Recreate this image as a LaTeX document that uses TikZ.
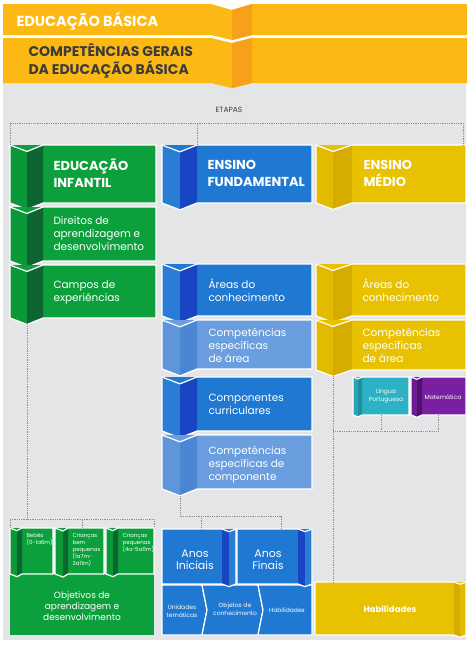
\documentclass[tikz,border=0pt]{standalone}
\usepackage{fontspec}
\setmainfont{Poppins}
\usetikzlibrary{calc}

\definecolor{bandface}{HTML}{FDB913}
\definecolor{bandstrip}{HTML}{F7A11A}
\definecolor{panelgray}{HTML}{E4E5E7}
\definecolor{inktext}{HTML}{3B3B3B}
\definecolor{guidegray}{HTML}{8C8C8C}
\definecolor{eiface}{HTML}{0BA03C}
\definecolor{eiflap}{HTML}{0A9838}
\definecolor{eistrip}{HTML}{0D6632}
\definecolor{efface}{HTML}{1F78D1}
\definecolor{efflap}{HTML}{2A7DD4}
\definecolor{efstrip}{HTML}{1845C2}
\definecolor{lbface}{HTML}{6A9EDE}
\definecolor{lbflap}{HTML}{5E95DB}
\definecolor{lbstrip}{HTML}{4A86D4}
\definecolor{emface}{HTML}{E8C200}
\definecolor{emflap}{HTML}{E2BA00}
\definecolor{emstrip}{HTML}{D6AC00}
\definecolor{lpface}{HTML}{2CB2C4}
\definecolor{lpflap}{HTML}{27A6B6}
\definecolor{lpstrip}{HTML}{1E8F9D}
\definecolor{mtface}{HTML}{7B1FA2}
\definecolor{mtflap}{HTML}{6E1A93}
\definecolor{mtstrip}{HTML}{52106F}

% folded box, fold on the left: x0, y0, x1, y1, flap, fold, name, palette
\newcommand{\foldbox}[8]{%
  \fill[#8face] (#1,#2) -- (#3,#2) -- (#3,#4) -- (#1,#4) -- cycle;
  \fill[#8flap] (#1,#2) -- (#1+#5,#2+0.38*#5) -- (#1+#5,#4+0.38*#5) -- (#1,#4) -- cycle;
  \fill[#8strip] (#1+#5,#2+0.38*#5) -- (#1+#6,#2) -- (#1+#6,#4) -- (#1+#5,#4+0.38*#5) -- cycle;
  \draw[sep] (#1,#2) -- (#1+#5,#2+0.38*#5) -- (#1+#6,#2) -- (#3,#2) -- (#3,#4)
    -- (#1+#6,#4) -- (#1+#5,#4+0.38*#5) -- (#1,#4) -- cycle;
  \coordinate (#7-tl) at (#1,#2);
  \coordinate (#7-tr) at (#3,#2);
  \coordinate (#7-bl) at (#1,#4);
  \coordinate (#7-br) at (#3,#4);
  \coordinate (#7-fold) at (#1+#6,#2);
  \coordinate (#7-v) at (#1+#5,#4+0.38*#5);
}
% same, fold on the right
\newcommand{\foldboxr}[8]{%
  \fill[#8face] (#1,#2) -- (#3,#2) -- (#3,#4) -- (#1,#4) -- cycle;
  \fill[#8strip] (#3-#6,#2) -- (#3-#5,#2+0.38*#5) -- (#3-#5,#4+0.38*#5) -- (#3-#6,#4) -- cycle;
  \fill[#8flap] (#3-#5,#2+0.38*#5) -- (#3,#2) -- (#3,#4) -- (#3-#5,#4+0.38*#5) -- cycle;
  \draw[sep] (#1,#2) -- (#3-#6,#2) -- (#3-#5,#2+0.38*#5) -- (#3,#2) -- (#3,#4)
    -- (#3-#5,#4+0.38*#5) -- (#3-#6,#4) -- (#1,#4) -- cycle;
  \coordinate (#7-tl) at (#1,#2);
  \coordinate (#7-tr) at (#3,#2);
  \coordinate (#7-bl) at (#1,#4);
  \coordinate (#7-br) at (#3,#4);
}

\tikzset{
  sep/.style={draw=white, line width=1.2pt, line join=miter},
  headtext/.style={anchor=west, align=left, text=white, font=\bfseries\fontsize{13}{17}\selectfont},
  boxtext/.style={anchor=west, align=left, text=white, font=\fontsize{10.5}{13}\selectfont},
  tinytext/.style={anchor=north west, align=left, text=white, font=\fontsize{5.5}{7}\selectfont},
  smalltext/.style={align=center, text=white, font=\fontsize{6}{7.5}\selectfont},
  guide/.style={draw=guidegray, densely dotted, line width=0.8pt},
}

\begin{document}
\begin{tikzpicture}[x=1pt, y=-1pt]
  \useasboundingbox (0,0) rectangle (474,648);
  % Background panel
  \fill[panelgray] (3,60) rectangle (466,640);

  % Header bands
  \fill[bandface] (3,4) -- (211,4) -- (232,10) -- (252,4) -- (467,4) -- (467,35)
    -- (252,35) -- (232,40) -- (211,35) -- (3,35) -- cycle;
  \fill[bandstrip] (232,10) -- (252,4) -- (252,35) -- (232,40) -- cycle;
  \fill[bandface] (3,38) -- (211,38) -- (232,43) -- (252,38) -- (467,38) -- (467,83)
    -- (252,83) -- (232,88) -- (211,83) -- (3,83) -- cycle;
  \fill[bandstrip] (232,43) -- (252,38) -- (252,83) -- (232,88) -- cycle;
  \node[anchor=west, text=white, font=\bfseries\fontsize{14.5}{16}\selectfont] (eb) at (13,21) {EDUCAÇÃO BÁSICA};
  \node[anchor=west, align=left, text=inktext, font=\bfseries\fontsize{14}{18}\selectfont] (cg) at (25,61)
    {COMPETÊNCIAS GERAIS\\DA EDUCAÇÃO BÁSICA};

  % Etapas
  \node[text=inktext, font=\fontsize{7.5}{9}\selectfont] (etapas) at (229,110) {ETAPAS};

  % Column 1: Educacao Infantil
  \foldbox{10}{145}{156}{203}{17}{33}{ei}{ei}
  \node[headtext] (ei-txt) at (50,173) {EDUCAÇÃO\\INFANTIL};
  \foldbox{10}{207}{156}{261}{17}{33}{dir}{ei}
  \node[boxtext] (dir-txt) at (50,234) {Direitos de\\aprendizagem e\\desenvolvimento};
  \foldbox{10}{265}{156}{318}{17}{33}{campos}{ei}
  \node[boxtext] (campos-txt) at (50,292) {Campos de\\experiências};

  % Column 2: Ensino Fundamental
  \foldbox{162}{145}{312}{203}{18}{35}{ef}{ef}
  \node[headtext] (ef-txt) at (204,173) {ENSINO\\FUNDAMENTAL};
  \foldbox{162}{264}{312}{316}{18}{35}{ac}{ef}
  \node[boxtext] (ac-txt) at (205,290) {Áreas do\\conhecimento};
  \foldbox{162}{320}{312}{369}{18}{35}{cea}{lb}
  \node[boxtext] (cea-txt) at (205,346) {Competências\\específicas\\de área};
  \foldbox{162}{377}{312}{431}{18}{35}{cc}{ef}
  \node[boxtext] (cc-txt) at (205,404) {Componentes\\curriculares};
  \foldbox{162}{435}{312}{489}{18}{35}{cpdc}{lb}
  \node[boxtext] (cpdc-txt) at (205,465) {Competências\\específicas de\\componente};

  % Column 3: Ensino Medio
  \foldbox{316}{145}{466}{203}{17}{36}{em}{em}
  \node[headtext] (em-txt) at (360,173) {ENSINO\\MÉDIO};
  \foldbox{316}{264}{466}{316}{17}{36}{yac}{em}
  \node[boxtext] (yac-txt) at (359,290) {Áreas do\\conhecimento};
  \foldbox{316}{320}{466}{370}{17}{36}{ycea}{em}
  \node[boxtext] (ycea-txt) at (359,346) {Competências\\específicas\\de área};
  \foldbox{353}{377}{409}{415}{5}{9}{lp}{lp}
  \node[smalltext] (lp-txt) at (386,396) {Língua\\Portuguesa};
  \foldbox{411}{377}{466}{415}{6}{11}{mt}{mt}
  \node[smalltext] (mt-txt) at (443,397) {Matemática};

  % Bottom row, Educacao Infantil
  \fill[eiface] (10,574) rectangle (154,635);
  \node[align=center, text=white, font=\fontsize{9}{10.8}\selectfont] (obj-txt) at (82,606)
    {Objetivos de\\aprendizagem e\\desenvolvimento};
  \foldbox{10}{528}{53}{574}{7}{12}{bebes}{ei}
  \node[tinytext] (bebes-txt) at (23,530) {Bebês\\(0-1a6m)};
  \foldbox{55}{528}{104}{574}{8}{13}{cbp}{ei}
  \node[tinytext] (cbp-txt) at (69,530) {Crianças\\bem\\pequenas\\(1a7m-\\3a11m)};
  \foldbox{106}{528}{154}{574}{7}{12}{cpeq}{ei}
  \node[tinytext] (cpeq-txt) at (119,530) {Crianças\\pequenas\\(4a-5a11m)};

  % Bottom row, Ensino Fundamental
  \filldraw[fill=efface, sep] (162,585) -- (202,585) -- (207,610) -- (202,635) -- (162,635) -- cycle;
  \filldraw[fill=efface, sep] (202,585) -- (258,585) -- (263,610) -- (258,635) -- (202,635) -- (207,610) -- cycle;
  \filldraw[fill=efface, sep] (258,585) -- (312,585) -- (312,635) -- (258,635) -- (263,610) -- cycle;
  \node[smalltext] (ut-txt) at (182,611) {Unidades\\temáticas};
  \node[smalltext] (oc-txt) at (235,609) {Objetos de\\conhecimento};
  \node[smalltext] (hab-txt) at (287,610) {Habilidades};
  \foldboxr{162}{529}{236}{584}{7}{14}{anosi}{ef}
  \node[align=center, text=white, font=\fontsize{11}{12}\selectfont] (anosi-txt) at (195,560) {Anos\\Iniciais};
  \foldboxr{237}{529}{312}{584}{7}{14}{anosf}{ef}
  \node[align=center, text=white, font=\fontsize{11}{12}\selectfont] (anosf-txt) at (268,560) {Anos\\Finais};

  % Bottom row, Ensino Medio
  \foldboxr{315}{582}{466}{635}{6}{12}{yhab}{em}
  \node[text=white, font=\bfseries\fontsize{8.5}{10}\selectfont] (yhab-txt) at (390,609) {Habilidades};

  % Dotted guides
  \coordinate (etl) at (10,123);
  \coordinate (etr) at (463,123);
  \draw[guide] (ei-tl) -- (etl) -- (etr) -- (etr |- em-tr);
  \draw[guide] (ef-fold) -- (ef-fold |- etl);

  \coordinate (gbar) at (24,519);
  \coordinate (cbp-drop) at ($(cbp-tl)+(27,0)$);
  \draw[guide] (campos-v) -- (campos-v |- gbar);
  \draw[guide] (bebes-tl) -- (bebes-tl |- gbar) -- (cpeq-tr |- gbar) -- (cpeq-tr);
  \draw[guide] (cbp-drop) -- (cbp-drop |- gbar);

  \coordinate (fbar) at (180,516);
  \coordinate (anosi-drop) at ($(anosi-tl)+(39,0)$);
  \coordinate (anosf-drop) at ($(anosf-tl)+(44,0)$);
  \draw[guide] (cpdc-v) |- (anosf-drop |- fbar) -- (anosf-drop);
  \draw[guide] (anosi-drop |- fbar) -- (anosi-drop);

  \coordinate (ybar) at (333,431);
  \coordinate (lp-drop) at ($(lp-bl)!0.5!(lp-br)$);
  \coordinate (mt-drop) at ($(mt-bl)!0.5!(mt-br)$);
  \draw[guide] (ycea-v) -- (ycea-v |- yhab-tl);
  \draw[guide] (lp-drop) |- (ybar);
  \draw[guide] (mt-drop) |- (ybar);
\end{tikzpicture}
\end{document}
